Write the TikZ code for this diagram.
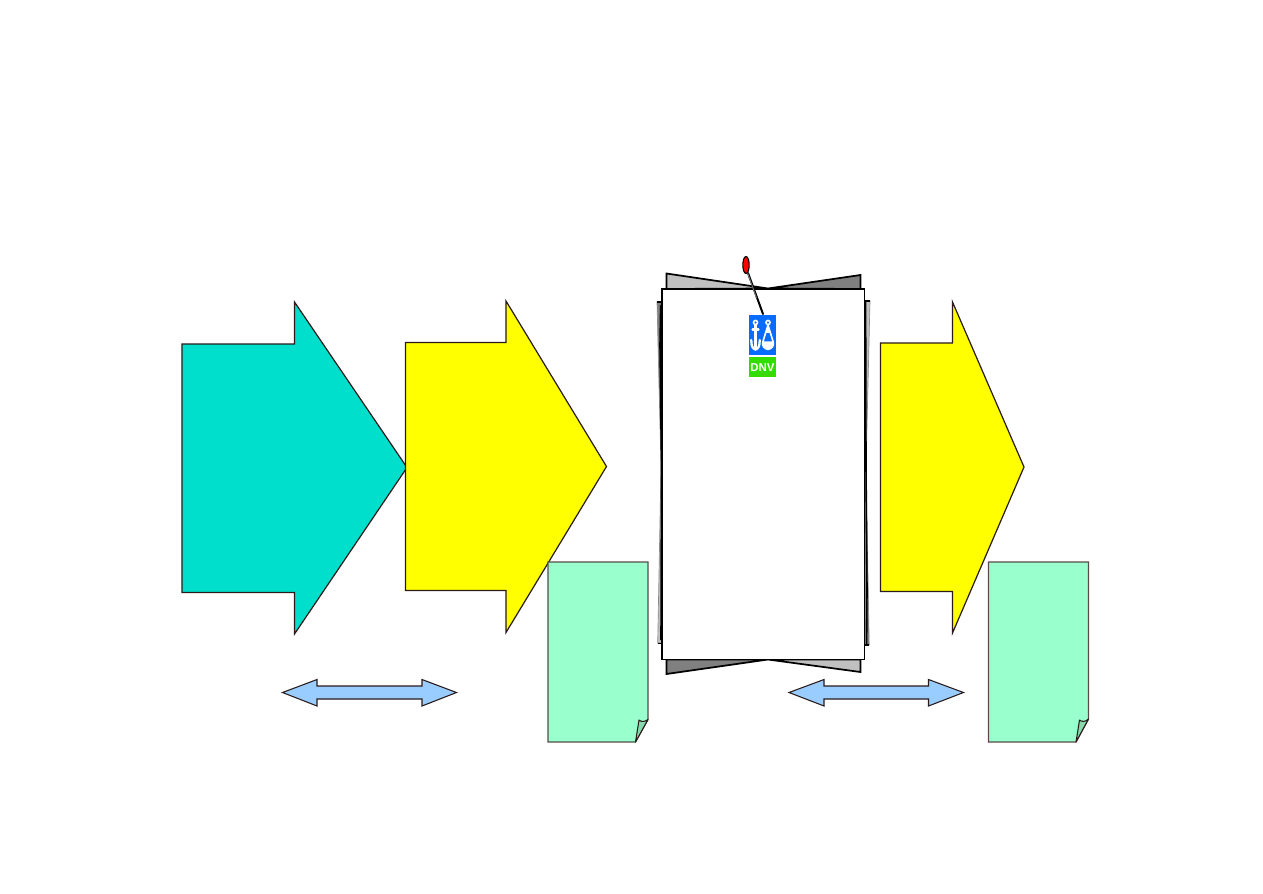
\documentclass[tikz,border=0pt]{standalone}
\usepackage{fontspec}
\setmainfont{Liberation Sans}
\definecolor{teal1}{HTML}{00DFCB}
\definecolor{yel}{HTML}{FFFF00}
\definecolor{mint}{HTML}{99FFCC}
\definecolor{foldc}{HTML}{88D8AE}
\definecolor{sky}{HTML}{99CCFF}
\definecolor{edgec}{HTML}{2A1A1A}
\definecolor{pagee}{HTML}{5A4A4A}
\definecolor{lg}{HTML}{C0C0C0}
\definecolor{dg}{HTML}{808080}
\definecolor{dnvblue}{HTML}{0A6CFF}
\definecolor{dnvgreen}{HTML}{33DD00}
\tikzset{
  bigarrow/.style={draw=edgec,line width=0.9pt,line join=miter},
  page/.style={draw=pagee,line width=0.9pt,fill=mint},
  fold/.style={draw=edgec,line width=0.8pt,fill=foldc,line join=round},
  dbl/.style={draw=edgec,line width=0.8pt,fill=sky},
  flap/.style={draw=black,line width=1.3pt,line join=miter},
  sidefill/.style={draw=black!45,line width=0.5pt},
  sideink/.style={draw=black,line width=1.2pt,line cap=butt},
  anc/.style={draw=white,line width=1.7pt,line cap=round},
}
\begin{document}
\begin{tikzpicture}[x=0.75pt,y=-0.75pt]
\useasboundingbox (0,0) rectangle (1263,893);
\fill[white] (0,0) rectangle (1263,893);
% big arrows
\draw[bigarrow,fill=teal1] (182,344) -- (294.5,344) -- (294.5,302) -- (407,467.5) -- (294.5,634) -- (294.5,592.5) -- (182,592.5) -- cycle;
\draw[bigarrow,fill=yel] (405.5,342.5) -- (506,342.5) -- (506,301) -- (606.5,466.5) -- (506,632.5) -- (506,590.5) -- (405.5,590.5) -- cycle;
\draw[bigarrow,fill=yel] (880.5,343) -- (952.5,343) -- (952.5,302) -- (1024,467) -- (952.5,633) -- (952.5,591.5) -- (880.5,591.5) -- cycle;
% pages
\draw[page] (548,562) -- (648,562) -- (648,719.5) -- (635.5,742) -- (548,742) -- cycle;
\draw[fold] (635.5,742) -- (639,720) .. controls (641,722) and (645,722) .. (648,719.5) -- cycle;
\draw[page] (988.5,562) -- (1088.5,562) -- (1088.5,719) -- (1076,742) -- (988.5,742) -- cycle;
\draw[fold] (1076,742) -- (1079.5,720) .. controls (1081.5,722) and (1085.5,722) .. (1088.5,719) -- cycle;
% double arrows
\draw[dbl] (282.5,692.5) -- (317,679.5) -- (317,686) -- (422,686) -- (422,679.5) -- (456.5,692.5) -- (422,706) -- (422,699) -- (317,699) -- (317,706) -- cycle;
\draw[dbl] (789,692.5) -- (824,679.5) -- (824,686) -- (928.5,686) -- (928.5,679.5) -- (963.5,692.5) -- (928.5,706) -- (928.5,699) -- (824,699) -- (824,706) -- cycle;
% sheet stack
\draw[flap,fill=lg] (666.5,289) -- (666.5,273.5) -- (768,288.5) -- cycle;
\draw[flap,fill=dg] (860.5,289) -- (860.5,275) -- (768,288.5) -- cycle;
\draw[flap,fill=dg] (666.5,659.5) -- (666.5,674) -- (768,659.5) -- cycle;
\draw[flap,fill=lg] (860.5,659.5) -- (860.5,672) -- (768,659.5) -- cycle;
% left sheet
\draw[sidefill,fill=dg] (662,302) -- (657,302) -- (661,467) -- (661.8,467) -- cycle;
\draw[sidefill,fill=lg] (662,643) -- (657.7,643) -- (661,467) -- (661.8,467) -- cycle;
\draw[sideink] (657,302) -- (662,302) (657.7,643.5) -- (662,643.5);
\draw[sideink] (660.7,305) -- (660,345) -- (661.5,467) -- (661,640);
% right sheet
\draw[sidefill,fill=lg] (865,301) -- (870,301) -- (866,467) -- (865.2,467) -- cycle;
\draw[sidefill,fill=dg] (865,645) -- (869.2,645) -- (866,467) -- (865.2,467) -- cycle;
\draw[sideink] (865,301) -- (870,301) (865,645) -- (869.2,645);
\draw[sideink] (865.6,301) -- (866,467) -- (867,590) -- (866.6,645);
\draw[black,line width=1.1pt,fill=white] (662,289) rectangle (864.5,659.5);
% pin
\draw[black,line width=1.5pt,line cap=round] (748,273) -- (763,314);
\draw[black!55,line width=0.7pt] (747.6,273) -- (756.5,298);
\draw[black,line width=0.8pt,fill=red] (746,265) ellipse [x radius=3.2,y radius=8.5];
% logo
\fill[dnvblue] (749,315) rectangle (776,355);
\fill[dnvgreen] (749,357) rectangle (776,377);
% anchor
\draw[anc,line width=1.2pt] (755.5,322.5) circle [radius=2];
\draw[anc] (755.5,325) -- (755.5,349);
\draw[anc] (752.5,329.5) -- (758.5,329.5);
\draw[anc] (751.3,340) .. controls (751,346) and (753,349) .. (755.5,349.5) .. controls (758,349) and (760,346) .. (759.7,340);
% buoy
\draw[anc,line width=1.2pt] (768,322.5) circle [radius=2];
\draw[anc,line width=1pt,line join=round,fill=white] (762.5,342) -- (773.5,342) .. controls (774.5,346) and (771.5,349) .. (768,349.5) .. controls (764.5,349) and (761.5,346) .. (762.5,342) -- cycle;
\draw[anc,line width=1.2pt] (768,325) -- (762.8,342) (768,325) -- (773.2,342);
\draw[anc,line width=0.9pt] (765.5,332.5) -- (770.5,332.5) (768,325) -- (768,332.5);
\node[font=\bfseries,text=white,inner sep=0pt,scale=0.86] (dnv) at (762.5,367.5) {DNV};
\end{tikzpicture}
\end{document}
